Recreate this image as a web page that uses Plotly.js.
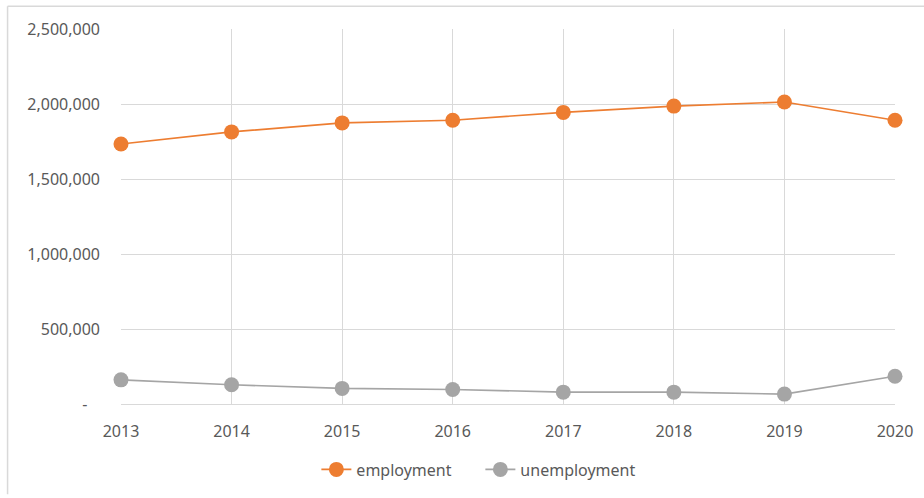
<!DOCTYPE html>
<html>
<head>
<meta charset="utf-8">
<script src="https://cdn.plot.ly/plotly-3.0.1.min.js"></script>
<style>
html,body{margin:0;padding:0;background:#fff;}
#chart{width:924px;height:498px;}
</style>
</head>
<body>
<div id="chart"></div>
<script>
const years = ['2013','2014','2015','2016','2017','2018','2019','2020'];
const employment = [1733000, 1814000, 1874000, 1892000, 1944000, 1986000, 2013000, 1892000];
const unemployment = [161000, 128000, 104000, 97000, 79000, 79000, 66000, 185000];
const yTickVals = [0, 500000, 1000000, 1500000, 2000000, 2500000];
const yTickText = ['-\u00a0\u00a0\u00a0', '500,000', '1,000,000', '1,500,000', '2,000,000', '2,500,000'];

const W = 924, H = 498;
const L = 120.5, R = 29, T = 29, B = 91;
const pw = W - L - R, ph = H - T - B;
const px = v => (v - L) / pw;
const py = v => (H - B - v) / ph;

const font = {family: '"Noto Sans", "Open Sans", sans-serif', size: 16, color: '#595959'};

const traces = [
  {x: years, y: employment, name: 'employment', type: 'scatter', mode: 'lines+markers', cliponaxis: false,
   line: {color: '#ED7D31', width: 1.6}, marker: {color: '#ED7D31', size: 15}},
  {x: years, y: unemployment, name: 'unemployment', type: 'scatter', mode: 'lines+markers', cliponaxis: false,
   line: {color: '#A5A5A5', width: 1.6}, marker: {color: '#A5A5A5', size: 15}}
];

const layout = {
  width: W, height: H,
  margin: {l: L, r: R, t: T, b: B, pad: 0},
  paper_bgcolor: '#fff', plot_bgcolor: '#fff',
  font: font,
  showlegend: true,
  legend: {orientation: 'h', x: px(316), xanchor: 'left', y: py(473), yanchor: 'middle',
           font: font, itemwidth: 30, entrywidth: 119, tracegroupgap: 0, bgcolor: 'rgba(0,0,0,0)'},
  xaxis: {type: 'category', range: [0, 7], showgrid: true, gridcolor: '#D9D9D9', gridwidth: 1,
          showline: false, zeroline: false, ticks: '', tickfont: font, ticklabelstandoff: 16,
          fixedrange: true},
  yaxis: {range: [0, 2500000], tickvals: yTickVals, ticktext: yTickText, showgrid: true,
          gridcolor: '#D9D9D9', gridwidth: 1, zeroline: true, zerolinecolor: '#D9D9D9', zerolinewidth: 1,
          showline: false, ticks: '', tickfont: font, ticklabelstandoff: 20, fixedrange: true},
  shapes: [
    {type: 'line', xref: 'paper', yref: 'paper', x0: px(7), x1: px(924), y0: py(6), y1: py(6),
     line: {color: '#D9D9D9', width: 1.5}},
    {type: 'line', xref: 'paper', yref: 'paper', x0: px(7), x1: px(7), y0: py(6), y1: py(498),
     line: {color: '#D9D9D9', width: 1.5}}
  ]
};

Plotly.newPlot('chart', traces, layout, {displayModeBar: false, staticPlot: true});
</script>
</body>
</html>
